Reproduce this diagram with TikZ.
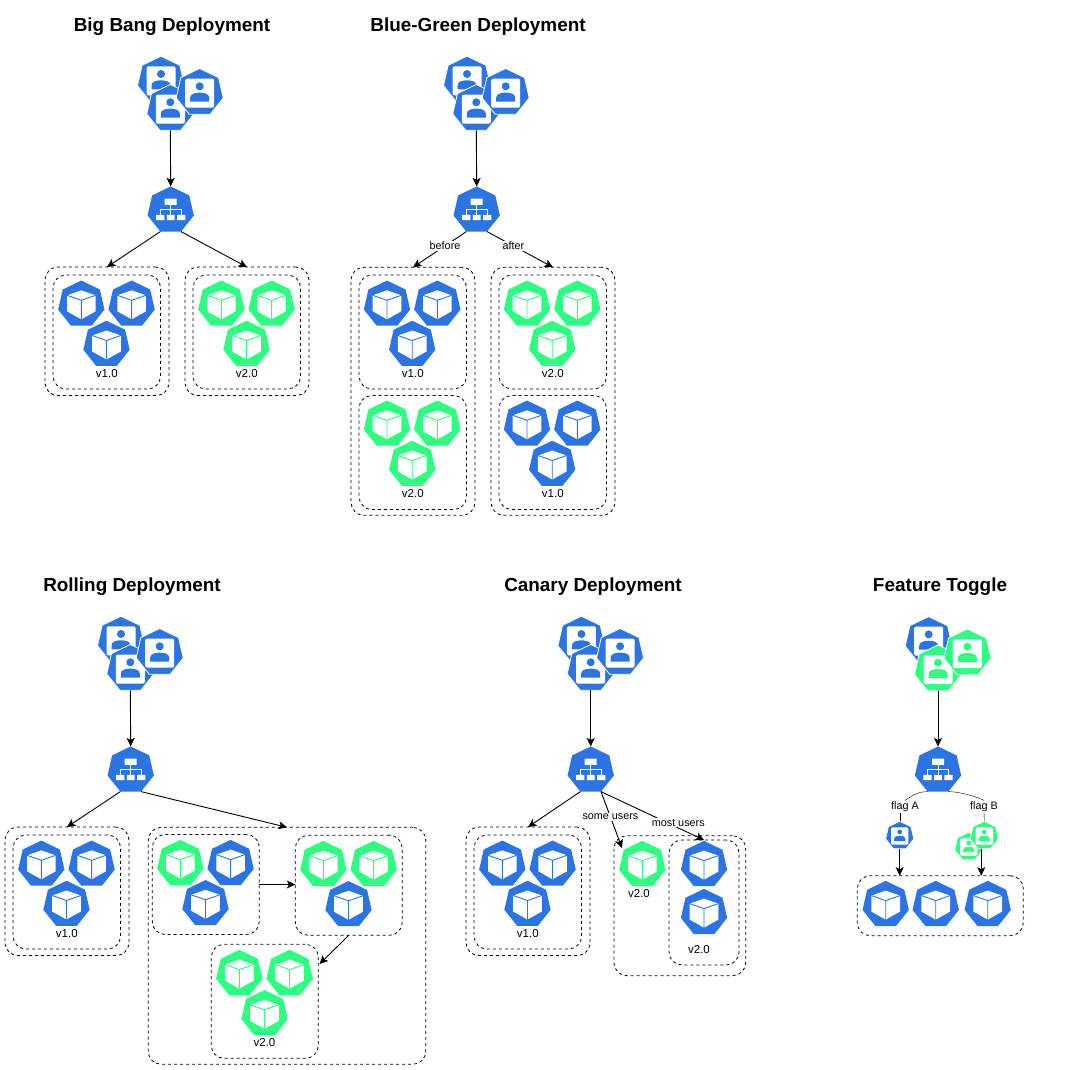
\documentclass[tikz,border=0pt]{standalone}
\usepackage{fontspec}
\setmainfont{Liberation Sans}
\usetikzlibrary{arrows.meta,shapes.geometric}

\definecolor{kblue}{HTML}{2B74E2}
\definecolor{kgreen}{HTML}{2DFF80}

\tikzset{
    hepta/.style={regular polygon,regular polygon sides=7,
                  inner sep=0pt,outer sep=0pt,minimum size=47.5pt},
    vbox/.style={draw,dash pattern=on 3pt off 3pt,line width=.8pt,rounded corners=13pt,
                 inner sep=0pt,outer sep=0pt},
    vlabel/.style={font=\fontsize{11.5}{12}\selectfont,inner sep=0pt},
    edgelabel/.style={font=\fontsize{10.8}{12}\selectfont,fill=white,inner sep=1pt},
    heading/.style={font=\fontsize{18.9}{20}\selectfont\bfseries,inner sep=0pt},
    arr/.style={-{Stealth[length=8.5pt,width=8pt,inset=2pt]},line width=.9pt}
}

\newcommand{\podicon}[4]{%
    \node[hepta,fill=#4] (#1) at (#2,#3) {};
    \fill[white,shift={(#1.center)}] (0,-14) -- (14.3,-9) -- (14.3,7) -- (0,15)
        -- (-14.3,7) -- (-14.3,-9) -- cycle;
    \draw[#4,line width=.9pt,shift={(#1.center)}] (-14.3,-9) -- (0,-4) -- (14.3,-9) (0,-4) -- (0,15);
}

\newcommand{\usericon}[5][1]{%
    \node[hepta,fill=#5,draw=white,line width=.8pt,minimum size={48.2pt*#1}] (#2) at (#3,#4) {};
    \begin{scope}[shift={(#2.center)},scale=#1]
        \fill[white,rounded corners=1.5pt] (-14.5,-14) rectangle (14.5,15);
        \fill[#5] (0,-6.3) circle (4);
        \fill[#5] (-9.5,9) -- (-9.5,5) .. controls (-9.5,1.5) and (-5,0) .. (0,0)
            .. controls (5,0) and (9.5,1.5) .. (9.5,5) -- (9.5,9) -- cycle;
    \end{scope}
}

\newcommand{\svcicon}[3]{%
    \node[hepta,fill=kblue] (#1) at (#2,#3) {};
    \begin{scope}[shift={(#1.center)}]
        \draw[white,line width=.9pt] (0,-5.3) -- (0,4.7) (-10.5,4.7) -- (-10.5,-.3) -- (10.5,-.3) -- (10.5,4.7);
        \fill[white] (-6,-11.7) rectangle (6,-5.3)
            (-14.7,4.7) rectangle (-6.3,10) (-3.9,4.7) rectangle (3.9,10) (6.3,4.7) rectangle (14.7,10);
    \end{scope}
}

\newcommand{\usertrio}[6]{%
    \usericon{#1a}{#2-9.3}{#3-28.3}{#4}
    \usericon{#1c}{#2}{#3}{#6}
    \usericon{#1b}{#2+29.4}{#3-16}{#5}
}

\newcommand{\podtrio}[6]{%
    \podicon{#1a}{#2-25.2}{#3-27.5}{#4}
    \podicon{#1b}{#2+25.1}{#3-27.5}{#5}
    \podicon{#1c}{#2}{#3+12.7}{#6}
}

\begin{document}
\begin{tikzpicture}[x=1pt,y=-1pt]
    \useasboundingbox (0,0) rectangle (1070,1070);

    \node[heading] (bbtitle) at (172,26.5) {Big Bang Deployment};
    \node[vbox,minimum width=124pt,minimum height=128.5pt] (bbouta) at (107,331.3) {};
    \node[vbox,minimum width=107.5pt,minimum height=114pt] (bbboxa) at (106.8,332) {};
    \node[vbox,minimum width=124pt,minimum height=128.5pt] (bboutb) at (247,331.3) {};
    \node[vbox,minimum width=107.5pt,minimum height=114pt] (bbboxb) at (246.8,332) {};
    \usertrio{bbu}{170.3}{108.6}{kblue}{kblue}{kblue}
    \svcicon{bbsvc}{170.7}{210.2}
    \podtrio{bbp}{106.5}{331.8}{kblue}{kblue}{kblue}
    \podtrio{bbq}{246.5}{331.8}{kgreen}{kgreen}{kgreen}
    \node[vlabel] (bbla) at (106.8,374) {v1.0};
    \node[vlabel] (bblb) at (246.8,374) {v2.0};
    \draw[arr] (bbuc.south) -- (bbsvc.north);
    \draw[arr] (bbsvc.corner 4) -- (bbouta.north);
    \draw[arr] (bbsvc.corner 5) -- (bboutb.north);

    \node[heading] (bgtitle) at (478,26.5) {Blue-Green Deployment};
    \node[vbox,minimum width=124pt,minimum height=248pt] (bgouta) at (413,391.3) {};
    \node[vbox,minimum width=107.5pt,minimum height=114pt] (bgboxa) at (412.8,332) {};
    \node[vbox,minimum width=107.5pt,minimum height=114pt] (bgboxb) at (412.8,452.5) {};
    \node[vbox,minimum width=124pt,minimum height=248pt] (bgoutb) at (553,391.3) {};
    \node[vbox,minimum width=107.5pt,minimum height=114pt] (bgboxc) at (552.8,332) {};
    \node[vbox,minimum width=107.5pt,minimum height=114pt] (bgboxd) at (552.8,452.5) {};
    \usertrio{bgu}{476.3}{108.6}{kblue}{kblue}{kblue}
    \svcicon{bgsvc}{476.7}{210.2}
    \podtrio{bgp}{412.2}{331.8}{kblue}{kblue}{kblue}
    \podtrio{bgq}{412.2}{451.8}{kgreen}{kgreen}{kgreen}
    \podtrio{bgr}{552.2}{331.8}{kgreen}{kgreen}{kgreen}
    \podtrio{bgs}{552.2}{451.8}{kblue}{kblue}{kblue}
    \node[vlabel] (bgla) at (412.8,374) {v1.0};
    \node[vlabel] (bglb) at (412.8,494) {v2.0};
    \node[vlabel] (bglc) at (552.8,374) {v2.0};
    \node[vlabel] (bgld) at (552.8,494) {v1.0};
    \draw[arr] (bguc.south) -- (bgsvc.north);
    \draw[arr] (bgsvc.corner 4) -- node[edgelabel,pos=.4] {before} (bgouta.north);
    \draw[arr] (bgsvc.corner 5) -- node[edgelabel,pos=.4] {after} (bgoutb.north);

    \node[heading] (rotitle) at (132,586.5) {Rolling Deployment};
    \node[vbox,minimum width=124pt,minimum height=128.5pt] (roouta) at (67,891.3) {};
    \node[vbox,minimum width=107.5pt,minimum height=114pt] (roboxa) at (66.8,892) {};
    \node[vbox,minimum width=277.5pt,minimum height=237pt] (rooutb) at (287,945.8) {};
    \node[vbox,minimum width=107pt,minimum height=100pt] (roboxb) at (205.8,884.5) {};
    \node[vbox,minimum width=107pt,minimum height=100pt] (roboxc) at (348.8,885.3) {};
    \node[vbox,minimum width=107pt,minimum height=114pt] (roboxd) at (264.8,1001.3) {};
    \usertrio{rou}{130.3}{668.6}{kblue}{kblue}{kblue}
    \svcicon{rosvc}{130.7}{770.2}
    \podtrio{rop}{66.5}{891.8}{kblue}{kblue}{kblue}
    \podtrio{roq}{205.5}{891.1}{kgreen}{kblue}{kblue}
    \podtrio{ror}{348.5}{892.1}{kgreen}{kgreen}{kblue}
    \podtrio{ros}{264.5}{1001.1}{kgreen}{kgreen}{kgreen}
    \node[vlabel] (rola) at (66.8,934) {v1.0};
    \node[vlabel] (rolb) at (264.5,1042.5) {v2.0};
    \coordinate (rotip) at (319.5,964);
    \draw[arr] (rouc.south) -- (rosvc.north);
    \draw[arr] (rosvc.corner 4) -- (roouta.north);
    \draw[arr] (rosvc.corner 5) -- (rooutb.north);
    \draw[arr] (roboxb.east) -- (roboxb.east -| roboxc.west);
    \draw[arr] (roboxc.south) -- (rotip);

    \node[heading] (catitle) at (593,586.5) {Canary Deployment};
    \node[vbox,minimum width=124pt,minimum height=128.5pt] (caouta) at (528,891.3) {};
    \node[vbox,minimum width=107.5pt,minimum height=114pt] (caboxa) at (527.8,892) {};
    \node[vbox,minimum width=131.7pt,minimum height=140pt] (caoutb) at (679.8,905.7) {};
    \node[vbox,minimum width=70pt,minimum height=125pt] (caboxb) at (704,902.5) {};
    \usertrio{cau}{590.7}{668.6}{kblue}{kblue}{kblue}
    \svcicon{casvc}{590.7}{770.2}
    \podtrio{cap}{527.5}{891.8}{kblue}{kblue}{kblue}
    \podicon{caga}{642.3}{864.6}{kgreen}
    \podicon{capa}{704}{864.6}{kblue}
    \podicon{capb}{704}{912.6}{kblue}
    \node[vlabel] (cala) at (527.8,934) {v1.0};
    \node[vlabel] (calb) at (639,894) {v2.0};
    \node[vlabel] (calc) at (699,950) {v2.0};
    \coordinate (catip) at (622,848);
    \draw[arr] (cauc.south) -- (casvc.north);
    \draw[arr] (casvc.corner 4) -- (caouta.north);
    \draw[arr] (casvc.corner 5) -- node[edgelabel,pos=.45] {some users} (catip);
    \draw[arr] (casvc.corner 5) -- node[edgelabel,pos=.75,yshift=5pt] {most users} (caboxb.north);

    \node[heading] (fttitle) at (940,586.5) {Feature Toggle};
    \node[vbox,minimum width=166pt,minimum height=60pt] (ftbox) at (940.3,905.7) {};
    \usertrio{ftu}{938}{669}{kblue}{kgreen}{kgreen}
    \svcicon{ftsvc}{938}{770.2}
    \usericon[.6]{ftsa}{899.7}{835.7}{kblue}
    \usericon[.6]{ftsc}{968.7}{846.7}{kgreen}
    \usericon[.6]{ftsb}{984.3}{835.7}{kgreen}
    \podicon{ftpa}{885.7}{904.6}{kblue}
    \podicon{ftpb}{935.7}{904.6}{kblue}
    \podicon{ftpc}{987.7}{904.6}{kblue}
    \node[edgelabel] (ftla) at (905,806.7) {flag A};
    \node[edgelabel] (ftlb) at (984,806.7) {flag B};
    \coordinate (fttip) at (981.3,875.7);
    \draw[arr] (ftuc.south) -- (ftsvc.north);
    \draw (ftsvc.corner 4) .. controls +(-12,0) and +(5,-3) .. (ftla.north);
    \draw (ftsvc.corner 5) .. controls +(12,0) and +(-5,-3) .. (ftlb.north);
    \draw (ftla.south -| ftsa.north) -- (ftsa.north);
    \draw (ftlb.south) -- (ftsb.north);
    \draw[arr] (ftsa.south) -- (ftsa.south |- ftbox.north);
    \draw[arr] (fttip |- ftsb.south) -- (fttip);
\end{tikzpicture}
\end{document}
